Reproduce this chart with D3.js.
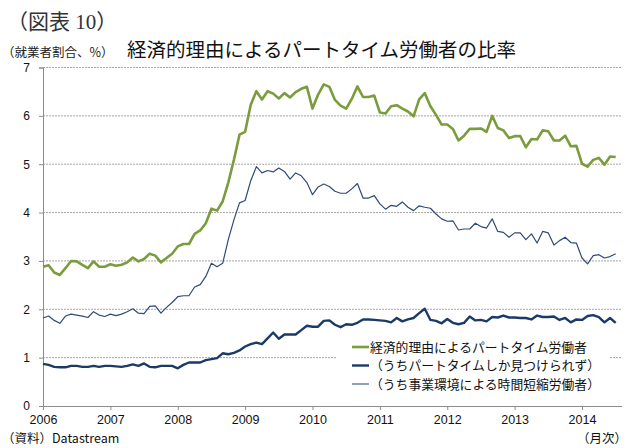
<!DOCTYPE html>
<html><head><meta charset="utf-8">
<script src="https://cdn.jsdelivr.net/npm/d3@7"></script>
<style>
html,body{margin:0;padding:0;background:#fff;}
svg{display:block;}
</style></head>
<body>
<svg id="chart" width="628" height="448"></svg>
<script>
// ---- data (monthly, Jan 2006 .. Jul 2014) ----
const startYear = 2006;
const yearLabels = ["2006","2007","2008","2009","2010","2011","2012","2013","2014"];
const yTicks = [0,1,2,3,4,5,6,7];
const seriesNames = ["経済的理由によるパートタイム労働者","（うちパートタイムしか見つけられず）","（うち事業環境による時間短縮労働者）"];

const economicReasons = [2.88,2.91,2.76,2.71,2.85,3.00,2.99,2.92,2.85,2.99,2.88,2.88,
2.93,2.90,2.92,2.97,3.07,2.99,3.04,3.15,3.11,2.97,3.06,3.15,
3.30,3.35,3.35,3.56,3.63,3.78,4.08,4.04,4.23,4.62,5.09,5.61,
5.67,6.23,6.51,6.34,6.51,6.46,6.36,6.47,6.38,6.49,6.56,6.60,
6.15,6.44,6.65,6.60,6.33,6.21,6.15,6.35,6.61,6.39,6.39,6.42,
6.07,6.05,6.20,6.22,6.15,6.09,5.99,6.34,6.47,6.20,6.02,5.82,
5.82,5.73,5.49,5.59,5.73,5.73,5.74,5.67,6.00,5.75,5.70,5.54,
5.58,5.58,5.35,5.52,5.51,5.70,5.68,5.49,5.49,5.59,5.37,5.38,
5.01,4.95,5.09,5.13,4.99,5.16,5.15];

const onlyPartTime = [0.87,0.85,0.81,0.80,0.80,0.83,0.83,0.81,0.81,0.83,0.81,0.83,
0.83,0.82,0.81,0.83,0.86,0.83,0.88,0.81,0.80,0.83,0.83,0.83,
0.78,0.85,0.90,0.90,0.90,0.95,0.97,0.99,1.09,1.07,1.10,1.15,
1.23,1.28,1.31,1.28,1.40,1.52,1.39,1.48,1.48,1.48,1.57,1.66,
1.64,1.64,1.76,1.77,1.68,1.63,1.69,1.68,1.72,1.79,1.79,1.78,
1.77,1.76,1.73,1.82,1.75,1.79,1.82,1.92,2.01,1.78,1.76,1.71,
1.80,1.72,1.69,1.72,1.85,1.77,1.78,1.75,1.84,1.83,1.87,1.83,
1.83,1.82,1.82,1.79,1.87,1.84,1.84,1.85,1.78,1.82,1.73,1.79,
1.78,1.86,1.88,1.84,1.73,1.82,1.72];

const slackWork = [1.82,1.86,1.77,1.71,1.86,1.90,1.88,1.86,1.83,1.95,1.88,1.85,
1.90,1.87,1.90,1.95,2.01,1.92,1.91,2.06,2.07,1.92,2.04,2.14,
2.26,2.28,2.28,2.46,2.51,2.68,2.95,2.88,2.95,3.44,3.85,4.20,
4.25,4.66,4.95,4.82,4.87,4.84,4.92,4.85,4.69,4.82,4.76,4.62,
4.37,4.53,4.59,4.54,4.44,4.40,4.40,4.49,4.60,4.30,4.30,4.35,
4.18,4.07,4.15,4.13,4.22,4.11,4.04,4.14,4.11,4.09,3.97,3.87,
3.82,3.83,3.64,3.66,3.66,3.78,3.71,3.68,3.87,3.61,3.59,3.49,
3.58,3.58,3.44,3.56,3.37,3.61,3.58,3.33,3.42,3.49,3.38,3.37,
3.06,2.94,3.11,3.13,3.06,3.09,3.15];

// ---- layout ----
const svg = d3.select("#chart");
const jp = "'Noto Sans CJK JP','Noto Sans',sans-serif";
const serif = "'Liberation Serif','Noto Sans CJK JP',serif";
const num = "'Liberation Sans',Arial,sans-serif";
const plotL = 43, plotR = 622, plotT = 67.5, plotB = 406;

const x = d3.scaleLinear().domain([0, 96]).range([plotL, 582]);
const y = d3.scaleLinear().domain([0, 7]).range([plotB, plotT]);

// titles
svg.append("text").attr("x",7).attr("y",29).attr("font-family",serif).attr("font-size",21)
  .attr("fill","#333").text("（図表 10）");
svg.append("text").attr("x",2).attr("y",57).attr("font-family",jp).attr("font-size",12.5)
  .attr("fill","#222").text("（就業者割合、%）");
svg.append("text").attr("x",127).attr("y",57).attr("font-family",jp).attr("font-size",19.5)
  .attr("fill","#111").text("経済的理由によるパートタイム労働者の比率");

// gridlines
svg.append("g").selectAll("line").data(yTicks.filter(d=>d>0)).join("line")
  .attr("x1",plotL).attr("x2",plotR).attr("y1",d=>y(d)).attr("y2",d=>y(d))
  .attr("stroke","#a6a6a6").attr("stroke-width",1).attr("stroke-dasharray","2,1");

// y axis
const yAxis = d3.axisLeft(y).tickValues(yTicks).tickSize(4).tickPadding(9).tickFormat(d3.format("d"));
const gy = svg.append("g").attr("transform",`translate(${plotL},0)`).call(yAxis);
gy.select(".domain").attr("stroke","#8c8c8c");
gy.selectAll(".tick line").attr("stroke","#8c8c8c");
gy.selectAll("text").attr("font-family",num).attr("font-size",12).attr("fill","#111");

// x axis
const xAxis = d3.axisBottom(x).tickValues(d3.range(0, 97, 12)).tickSize(4).tickPadding(5)
  .tickFormat((d,i)=>yearLabels[i]);
const gx = svg.append("g").attr("transform",`translate(0,${plotB})`).call(xAxis);
gx.select(".domain").attr("d",`M${plotL},0.5H${plotR}`).attr("stroke","#8c8c8c");
gx.selectAll(".tick line").attr("stroke","#8c8c8c");
gx.selectAll("text").attr("font-family",num).attr("font-size",12.5).attr("fill","#111");

// lines
const line = d3.line().x((d,i)=>x(i)).y(d=>y(d));
const series = [
  {vals: slackWork, color:"#2f4a78", w:1.2},
  {vals: onlyPartTime, color:"#1c3a68", w:2.4},
  {vals: economicReasons, color:"#7b9c3c", w:2.6}
];
svg.append("g").selectAll("path").data(series).join("path")
  .attr("d",d=>line(d.vals)).attr("fill","none")
  .attr("stroke",d=>d.color).attr("stroke-width",d=>d.w).attr("stroke-linejoin","round");

// legend
const lg = svg.append("g");
lg.append("rect").attr("x",337).attr("y",337).attr("width",272).attr("height",58).attr("fill","#fff");
const legendItems = [
  {name: seriesNames[0], color:"#7b9c3c", w:2.6},
  {name: seriesNames[1], color:"#1c3a68", w:2.4},
  {name: seriesNames[2], color:"#6a7fa3", w:1.5}
];
legendItems.forEach((d,i)=>{
  const yy = 347 + i*18.5;
  lg.append("line").attr("x1",352).attr("x2",369).attr("y1",yy).attr("y2",yy)
    .attr("stroke",d.color).attr("stroke-width",d.w);
  lg.append("text").attr("x",370).attr("y",yy+4.5).attr("font-family",jp).attr("font-size",12.8)
    .attr("fill","#111").text(d.name);
});

// footer
svg.append("text").attr("x",2).attr("y",443).attr("font-family",jp).attr("font-size",12.5)
  .attr("fill","#111").text("（資料）Datastream");
svg.append("text").attr("x",627).attr("y",443).attr("text-anchor","end").attr("font-family",jp).attr("font-size",12.5)
  .attr("fill","#111").text("（月次）");
</script>
</body></html>
